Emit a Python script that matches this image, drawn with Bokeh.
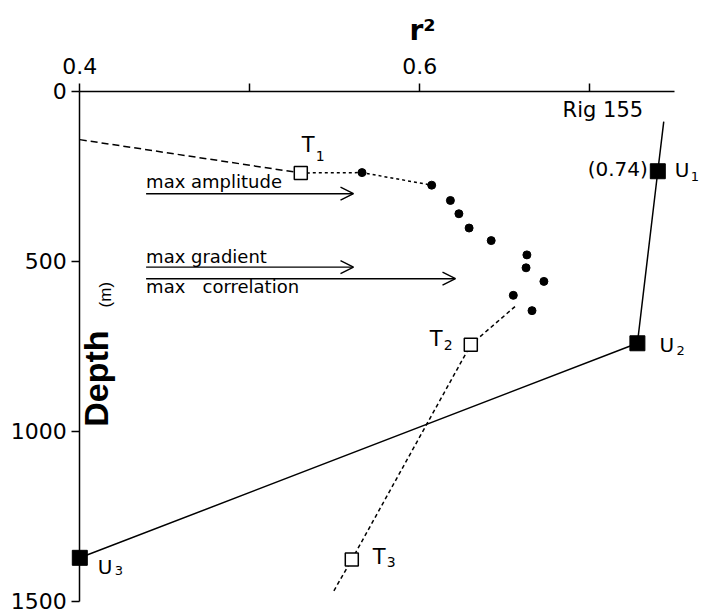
from bokeh.plotting import figure
from bokeh.models import Range1d, FixedTicker, ColumnDataSource, Arrow, OpenHead
from bokeh.core.properties import value
from bokeh.embed import file_html
from bokeh.resources import INLINE
import math

# ---------------- data ----------------
r2_ticks = [0.4, 0.5, 0.6, 0.7]
r2_tick_labels = {0.5: "", 0.7: ""}
depth_ticks = [0, 500, 1000, 1500]

trend_r2 = [0.400, 0.530]            # long-dashed trend to T1
trend_depth = [143, 241]
upper_link_r2 = [0.530, 0.566, 0.607]  # short-dashed link T1 -> dots
upper_link_depth = [241, 240, 277]

dot_r2 = [0.566, 0.607, 0.618, 0.623, 0.629, 0.642, 0.663, 0.6625, 0.673, 0.655, 0.666]
dot_depth = [240, 277, 322, 361, 403, 440, 482, 520, 560, 601, 646]

t_line_r2 = [0.656, 0.630, 0.560, 0.549]
t_line_depth = [634, 746, 1378, 1474]
t_r2 = [0.530, 0.630, 0.560]
t_depth = [241, 746, 1378]
t_sub = ["1", "2", "3"]

u_line_r2 = [0.7435, 0.740, 0.728, 0.400]
u_line_depth = [90, 236, 742, 1373]
u_r2 = [0.740, 0.728, 0.400]
u_depth = [236, 742, 1373]
u_sub = ["1", "2", "3"]
u1_value = "(0.74)"

arrow_text = ["max amplitude", "max gradient", "max\u00a0\u00a0\u00a0correlation"]
arrow_r2_start = [0.439, 0.439, 0.439]
arrow_r2_end = [0.561, 0.561, 0.621]
arrow_depth = [302, 518, 552]

rig_label = "Rig 155"
rig_r2 = 0.684
rig_depth = 81

FONT = "DejaVu Sans"
PXX = 1700.0   # pixels per r2 unit
PXY = 0.34     # pixels per metre

# frame geometry (page pixels): axis origin (0.4, 0 m) at (79.3, 90.5)
frame_left, frame_right = 4.0, 699.0
frame_top, frame_bottom = 48.0, 614.0
x_start = 0.4 - (79.3 - frame_left) / PXX
x_end = x_start + (frame_right - frame_left) / PXX
y_top = -(90.5 - frame_top) / PXY
y_bottom = 1500 + (frame_bottom - 600.5) / PXY

p = figure(frame_width=int(frame_right - frame_left), frame_height=int(frame_bottom - frame_top),
           x_range=Range1d(x_start, x_end), y_range=Range1d(y_bottom, y_top),
           x_axis_location="above", y_axis_location="left",
           output_backend="svg", toolbar_location=None,
           min_border_left=int(frame_left), min_border_right=0,
           min_border_top=int(frame_top), min_border_bottom=0,
           title="r\u00b2")
p.outline_line_color = None
p.xgrid.visible = False
p.ygrid.visible = False
p.background_fill_color = "white"
p.border_fill_color = "white"

# title used as the r^2 axis label, positioned above 0.6
p.title.text_font = FONT
p.title.text_font_size = "28px"
p.title.text_font_style = "bold"
p.title.text_color = "black"
p.title.align = "left"
p.title.offset = 405
p.title.standoff = 3

xa = p.xaxis[0]
xa.fixed_location = 0
xa.bounds = (0.4, 0.75)
xa.ticker = FixedTicker(ticks=r2_ticks)
xa.major_label_overrides = r2_tick_labels
xa.major_label_text_font = FONT
xa.major_label_text_font_size = "22px"
xa.major_label_text_color = "black"
xa.major_tick_out = 8
xa.major_tick_in = 0
xa.minor_tick_out = 0
xa.minor_tick_in = 0
xa.major_label_standoff = 9
xa.axis_line_width = 1.5
xa.major_tick_line_width = 1.5

ya = p.yaxis[0]
ya.fixed_location = 0.4
ya.bounds = (0, 1500)
ya.ticker = FixedTicker(ticks=depth_ticks)
ya.major_label_text_font = FONT
ya.major_label_text_font_size = "22px"
ya.major_label_text_color = "black"
ya.major_tick_out = 8
ya.major_tick_in = 0
ya.minor_tick_out = 0
ya.minor_tick_in = 0
ya.major_label_standoff = 5
ya.axis_line_width = 1.5
ya.major_tick_line_width = 1.5

# ---------------- lines ----------------
p.line(trend_r2, trend_depth, line_color="black", line_width=1.5, line_dash="7 4")
p.line(upper_link_r2, upper_link_depth, line_color="black", line_width=1.5, line_dash="3 3")
p.line(t_line_r2, t_line_depth, line_color="black", line_width=1.5, line_dash="4 3")
p.line(u_line_r2, u_line_depth, line_color="black", line_width=1.5)

# ---------------- markers ----------------
p.scatter(dot_r2, dot_depth, marker="circle", size=8, fill_color="black", line_color="black")
p.scatter(t_r2, t_depth, marker="square", size=13, fill_color="white",
          line_color="black", line_width=1.5)
p.scatter(u_r2, u_depth, marker="square", size=15, fill_color="black", line_color="black")

# ---------------- arrows ----------------
arr_src = ColumnDataSource(dict(x0=arrow_r2_start, x1=arrow_r2_end, y=arrow_depth))
p.add_layout(Arrow(source=arr_src, x_start="x0", y_start="y", x_end="x1", y_end="y",
                   line_width=1.4, line_color="black",
                   end=OpenHead(size=13, line_width=1.4, line_color="black")))

arr_txt_off = [-12, -11, 8]
p.text(arrow_r2_start, arrow_depth, text=arrow_text, y_offset=arr_txt_off,
       text_font=value(FONT), text_font_size="18px", text_color="black",
       text_align="left", text_baseline="alphabetic")

# ---------------- point labels ----------------
t_main_dx = [1, -41, 21]
t_main_dy = [-28, -6, -3]
t_sub_dx = [15, -27, 35]
t_sub_dy = [-17, 0, 2]
p.text(t_r2, t_depth, text=["T"] * 3, x_offset=t_main_dx, y_offset=t_main_dy,
       text_font=value(FONT), text_font_size="21px", text_color="black",
       text_align="left", text_baseline="alphabetic")
p.text(t_r2, t_depth, text=t_sub, x_offset=t_sub_dx, y_offset=t_sub_dy,
       text_font=value(FONT), text_font_size="14px", text_color="black",
       text_align="left", text_baseline="alphabetic")

u_main_dx = [17, 22, 18]
u_main_dy = [-1, 2, 9]
u_sub_dx = [33, 39, 35]
u_sub_dy = [5, 7, 13]
p.text(u_r2, u_depth, text=["U"] * 3, x_offset=u_main_dx, y_offset=u_main_dy,
       text_font=value(FONT), text_font_size="20px", text_color="black",
       text_align="left", text_baseline="alphabetic")
p.text(u_r2, u_depth, text=u_sub, x_offset=u_sub_dx, y_offset=u_sub_dy,
       text_font=value(FONT), text_font_size="13px", text_color="black",
       text_align="left", text_baseline="alphabetic")

p.text([u_r2[0]], [u_depth[0]], text=[u1_value], x_offset=-10, y_offset=-2,
       text_font=value(FONT), text_font_size="20px", text_color="black",
       text_align="right", text_baseline="alphabetic")

p.text([rig_r2], [rig_depth], text=[rig_label], y_offset=-9,
       text_font=value(FONT), text_font_size="21px", text_color="black",
       text_align="left", text_baseline="alphabetic")

# ---------------- rotated depth label ----------------
p.text([0.4], [846], text=["Depth"], x_offset=16, angle=math.pi / 2,
       text_font=value("Liberation Sans"), text_font_size="34px", text_font_style="bold",
       text_color="black", text_align="center", text_baseline="alphabetic")
p.text([0.4], [599], text=["(m)"], x_offset=26, angle=math.pi / 2,
       text_font=value("Liberation Sans"), text_font_size="17px",
       text_color="black", text_align="center", text_baseline="alphabetic")

open("out.html", "w").write(file_html(p, INLINE))
